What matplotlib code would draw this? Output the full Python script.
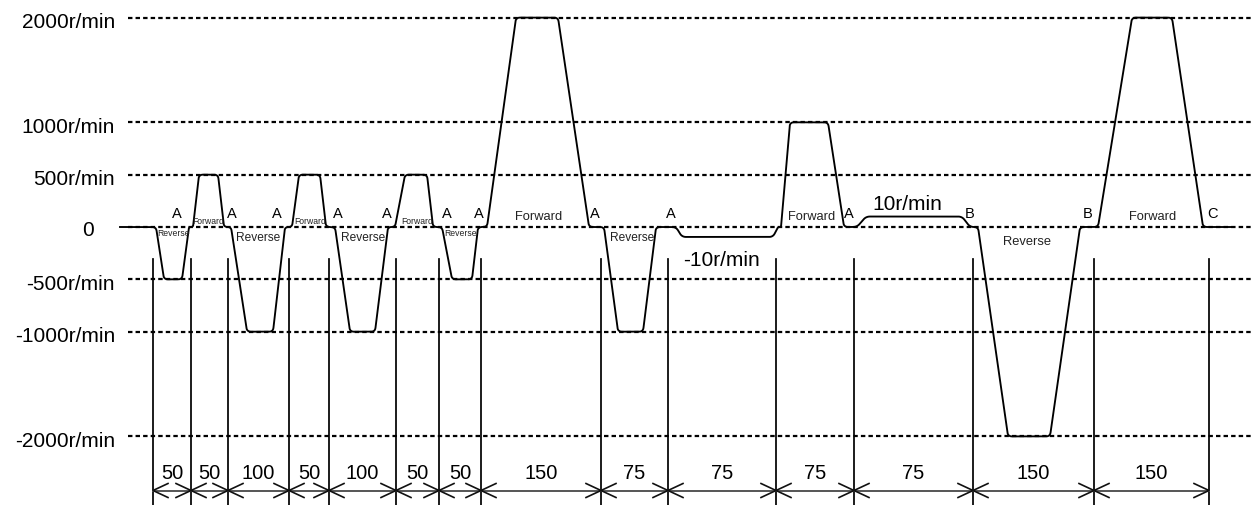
import numpy as np
import matplotlib
matplotlib.use("Agg")
import matplotlib.pyplot as plt
from matplotlib import font_manager

plt.rcParams['font.family'] = ['Liberation Sans', 'DejaVu Sans']
_names = {f.name for f in font_manager.fontManager.ttflist}
NARROW = ['Liberation Sans Narrow'] if 'Liberation Sans Narrow' in _names else ['Liberation Sans']
NARROW_SIZE = 7.0 if NARROW[0] == 'Liberation Sans Narrow' else 6.2

# ---------------- data ----------------
# speed levels shown as reference lines (r/min)
levels = [2000, 1000, 500, 0, -500, -1000, -2000]
level_labels = ["2000r/min", "1000r/min", "500r/min", "0", "-500r/min", "-1000r/min", "-2000r/min"]

# speed profile (schematic time axis, r/min)
prof_t = [120, 156, 164, 182, 189, 193, 199, 218, 224, 231, 247, 273, 285, 292, 299,
          320, 326, 335, 350, 375, 388, 395, 405, 427, 433, 442, 452, 472, 478, 487,
          516, 558, 589, 604, 618, 643, 656, 676, 682, 773, 778, 781, 790, 828, 844,
          857, 866, 962, 970, 978, 1008, 1050, 1080, 1098, 1132, 1172, 1203, 1232]
prof_v = [0, 0, -500, -500, 0, 0, 500, 500, 0, 0, -1000, -1000, 0, 0, 500,
          500, 0, 0, -1000, -1000, 0, 0, 500, 500, 0, 0, -500, -500, 0, 0,
          2000, 2000, 0, 0, -1000, -1000, 0, 0, -95, -95, 0, 0, 1000, 1000, 0,
          0, 100, 100, 0, 0, -2000, -2000, 0, 0, 2000, 2000, 0, 0]

# segment boundaries (schematic time) and segment durations
bounds = [153, 191, 228, 289, 329, 396, 439, 481, 601, 668, 776, 854, 973, 1094, 1209]
durations = [50, 50, 100, 50, 100, 50, 50, 150, 75, 75, 75, 75, 150, 150]

# point labels
pt_labels = ["A", "A", "A", "A", "A", "A", "A", "A", "A", "A", "B", "B", "C"]
pt_t = [177, 232, 277, 338, 387, 447, 479, 595, 671, 849, 970, 1088, 1213]

# direction labels
dir_text = ["Reverse", "Forward", "Reverse", "Forward", "Reverse", "Forward", "Reverse",
            "Forward", "Reverse", "Forward", "Reverse", "Forward"]
dir_t = [174, 208, 258, 310, 363, 417, 461, 539, 632, 812, 1027, 1153]
dir_v = [-53, 62, -95, 62, -95, 62, -57, 105, -95, 105, -129, 105]
dir_small = [True, True, False, True, False, True, True, False, False, False, False, False]
dir_size = [0, 0, 8.6, 0, 8.6, 0, 0, 9.3, 8.6, 9.3, 9.3, 9.3]

# speed annotations
spd_text = ["10r/min", "-10r/min"]
spd_t = [907, 721]
spd_v = [229, -315]

# ---------------- figure ----------------
W, H = 1252, 506
fig = plt.figure(figsize=(W / 100, H / 100), dpi=100)
ax = fig.add_axes([0, 0, 1, 1])
K = 0.1047  # px per r/min
y_zero_px = 228
ax.set_xlim(0, W)
ax.set_ylim(-(H - y_zero_px) / K, y_zero_px / K)
ax.axis('off')


def rounded(xs, vs, r=4.0, n=8):
    P = np.column_stack([np.asarray(xs, float), np.asarray(vs, float) * K])
    out = [P[0]]
    for i in range(1, len(P) - 1):
        a, b, c = P[i - 1], P[i], P[i + 1]
        d1 = a - b
        d2 = c - b
        l1 = np.hypot(*d1)
        l2 = np.hypot(*d2)
        rr = min(r, l1 / 2, l2 / 2)
        p0 = b + d1 / l1 * rr
        p2 = b + d2 / l2 * rr
        t = np.linspace(0, 1, n)[:, None]
        out.extend((1 - t) ** 2 * p0 + 2 * (1 - t) * t * b + t ** 2 * p2)
    out.append(P[-1])
    arr = np.array(out)
    return arr[:, 0], arr[:, 1] / K


# dotted reference lines
for lv in levels:
    ax.plot([128, W], [lv, lv], color='black', lw=1.6,
            ls=(0, (2.0, 1.4)), solid_capstyle='butt', zorder=2)

# level labels
for lv, lab in zip(levels, level_labels):
    if lab == "0":
        ax.annotate(lab, (88, lv), xytext=(0, -2), textcoords='offset points',
                    ha='center', va='center', fontsize=15)
    else:
        ax.annotate(lab, (115, lv), xytext=(0, -3), textcoords='offset points',
                    ha='right', va='center', fontsize=15)

# speed profile
px, pv = rounded(prof_t, prof_v)
ax.plot(px, pv, color='black', lw=1.35, zorder=3, solid_joinstyle='round')

# vertical boundary lines and dimension line (y in axes fraction)
tr = ax.get_xaxis_transform()
y_top = 1 - 260 / H
y_dim = 1 - 491.5 / H
y_num = 1 - 474 / H
ah_dx = 15
ah_dy = 7 / H
for b in bounds:
    ax.plot([b, b], [0, y_top], color='black', lw=1.25, transform=tr, zorder=2)
ax.plot([bounds[0], bounds[-1]], [y_dim, y_dim], color='#555555', lw=1.4,
        transform=tr, zorder=2)
for i, (b0, b1) in enumerate(zip(bounds[:-1], bounds[1:])):
    for tip, sgn in ((b0, 1), (b1, -1)):
        ax.plot([tip + sgn * ah_dx, tip, tip + sgn * ah_dx],
                [y_dim + ah_dy, y_dim, y_dim - ah_dy],
                color='#111111', lw=1.2, transform=tr, zorder=3)
    ax.text((b0 + b1) / 2, y_num, str(durations[i]), transform=tr,
            ha='center', va='center', fontsize=14.5)

# point labels
for lab, t in zip(pt_labels, pt_t):
    ax.text(t, 138, lab, ha='center', va='center', fontsize=10.5)

# direction labels
for lab, t, v, small, s in zip(dir_text, dir_t, dir_v, dir_small, dir_size):
    if small:
        ax.text(t, v, lab, ha='center', va='center', fontsize=NARROW_SIZE,
                family=NARROW, color='#222222')
    else:
        ax.text(t, v, lab, ha='center', va='center', fontsize=s, color='#222222')

# speed annotations
for lab, t, v in zip(spd_text, spd_t, spd_v):
    ax.text(t, v, lab, ha='center', va='center', fontsize=15)

fig.savefig("out.png", dpi=100, facecolor='white')
